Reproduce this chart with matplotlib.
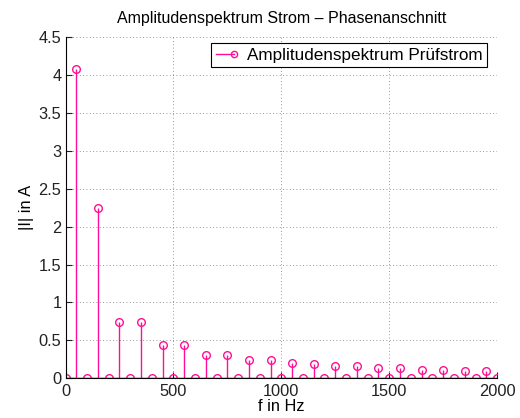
import matplotlib
matplotlib.use("Agg")
import matplotlib.pyplot as plt
from matplotlib.lines import Line2D
from matplotlib.legend_handler import HandlerBase
import numpy as np

# Frequency bins (Hz) and amplitude spectrum (A)
Freq = np.arange(0, 2001, 50)
OddHarm = [4.08, 2.25, 0.74, 0.74, 0.44, 0.44, 0.31, 0.31, 0.24, 0.24,
           0.196, 0.188, 0.16, 0.16, 0.135, 0.13, 0.113, 0.11, 0.096, 0.094]
Amp = np.zeros(len(Freq))
Amp[1::2] = OddHarm

Title = "Amplitudenspektrum Strom \u2013 Phasenanschnitt"
LegendLabel = "Amplitudenspektrum Prüfstrom"
XLabel = "f in Hz"
YLabel = "|I| in A"
XTicks = [0, 500, 1000, 1500, 2000]
YTicks = [0, 0.5, 1, 1.5, 2, 2.5, 3, 3.5, 4, 4.5]
YTickLabels = ["0", "0.5", "1", "1.5", "2", "2.5", "3", "3.5", "4", "4.5"]

Colour = "#ff0f96"
FontSize = 11.8
TitleSize = 11.5
LegendSize = 12.3
MarkerSize = 5.5

plt.rcParams['font.family'] = ['Liberation Sans', 'DejaVu Sans']


class StemHandler(HandlerBase):
    """Legend entry like MATLAB's stem: a line with the marker at its right end"""
    def create_artists(self, legend, orig, xdescent, ydescent, width, height, fontsize, trans):
        y = (height - ydescent) / 2
        line = Line2D([-xdescent, width - xdescent], [y, y], color=Colour, linewidth=1.0)
        mk = Line2D([width - xdescent], [y], linestyle="none", marker="o", markersize=MarkerSize - 1,
                    markerfacecolor="none", markeredgecolor=Colour, markeredgewidth=1.0)
        line.set_transform(trans)
        mk.set_transform(trans)
        return [line, mk]


fig = plt.figure(figsize=(5.2, 4.18), dpi=100)
ax = fig.add_axes([0.126, 0.095, 0.830, 0.816])

markers, stems, base = ax.stem(Freq, Amp, linefmt="-", markerfmt="o", basefmt="k-")
plt.setp(stems, color=Colour, linewidth=1.0)
plt.setp(markers, markerfacecolor="none", markeredgecolor=Colour, markersize=MarkerSize, markeredgewidth=1.0)
plt.setp(base, color="black", linewidth=1.0)

ax.set_xlim(0, 2000)
ax.set_ylim(0, 4.5)
ax.set_xticks(XTicks)
ax.set_yticks(YTicks)
ax.set_yticklabels(YTickLabels)
ax.grid(True, linestyle=(0, (1, 3)), color="#777777", linewidth=0.6)
ax.set_axisbelow(True)
for s in ["top", "right"]:
    ax.spines[s].set_visible(False)
ax.spines["left"].set_linewidth(0.8)
ax.spines["bottom"].set_linewidth(0.8)
ax.tick_params(direction="in", length=4, labelsize=FontSize, colors="#222222")
ax.tick_params(axis="x", pad=4)
ax.tick_params(axis="y", pad=3)

ax.set_title(Title, fontsize=TitleSize, pad=10)
ax.set_xlabel(XLabel, fontsize=FontSize, labelpad=0)
ax.set_ylabel(YLabel, fontsize=FontSize, labelpad=3)

leg = ax.legend([object()], [LegendLabel], handler_map={object: StemHandler()},
                loc="upper right", bbox_to_anchor=(487 / 520, 1 - 43.3 / 418),
                bbox_transform=fig.transFigure, borderaxespad=0,
                fontsize=LegendSize, fancybox=False, framealpha=1,
                edgecolor="black", borderpad=0.25, handlelength=1.1,
                handletextpad=0.75)
leg.get_frame().set_linewidth(0.8)

fig.savefig("out.png", dpi=100)
